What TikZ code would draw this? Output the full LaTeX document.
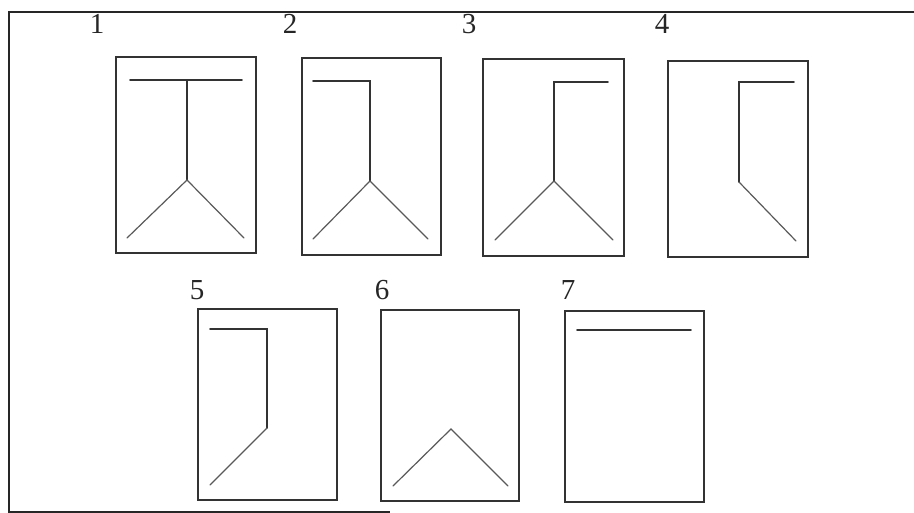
\documentclass[tikz,border=0pt]{standalone}
\usepackage{fontspec}
\setmainfont{Liberation Serif}
\begin{document}
\begin{tikzpicture}[x=1pt,y=-1pt,
  frame/.style={draw=black!85,line width=2pt},
  panel/.style={draw=black!80,line width=1.8pt},
  wire/.style={draw=black!80,line width=1.6pt,line cap=round,line join=miter},
  leg/.style={draw=black!65,line width=1.2pt,line cap=round},
  num/.style={font=\fontsize{29}{29}\selectfont,inner sep=0pt,text=black!85}]
\useasboundingbox (0,0) rectangle (914,513);
% outer frame
\draw[frame] (925,12) -- (9,12) -- (9,511.5) -- (390,511.5);
% labels
\node[num] (l1) at (97,24) {1};
\node[num] (l2) at (290,24) {2};
\node[num] (l3) at (469,24) {3};
\node[num] (l4) at (662,24) {4};
\node[num] (l5) at (197,290) {5};
\node[num] (l6) at (382,290) {6};
\node[num] (l7) at (568,290) {7};
% panel 1
\draw[panel] (116,57) rectangle (256,253);
\draw[wire] (130,80) -- (242,80);
\draw[wire] (187,80) -- (187,180);
\draw[leg] (127,238) -- (187,180) -- (244,238);
% panel 2
\draw[panel] (302,58) rectangle (441,255);
\draw[wire] (313,81) -- (370,81) -- (370,181);
\draw[leg] (313,239) -- (370,181) -- (428,239);
% panel 3
\draw[panel] (483,59) rectangle (624,256);
\draw[wire] (608,82) -- (554,82) -- (554,181);
\draw[leg] (495,240) -- (554,181) -- (613,240);
% panel 4
\draw[panel] (668,61) rectangle (808,257);
\draw[wire] (794,82) -- (739,82) -- (739,182);
\draw[leg] (739,182) -- (796,241);
% panel 5
\draw[panel] (198,309) rectangle (337,500);
\draw[wire] (210,329) -- (267,329) -- (267,428);
\draw[leg] (267,428) -- (210,485);
% panel 6
\draw[panel] (381,310) rectangle (519,501);
\draw[leg] (393,486) -- (451,429) -- (508,486);
% panel 7
\draw[panel] (565,311) rectangle (704,502);
\draw[wire] (577,330) -- (691,330);
\end{tikzpicture}
\end{document}
